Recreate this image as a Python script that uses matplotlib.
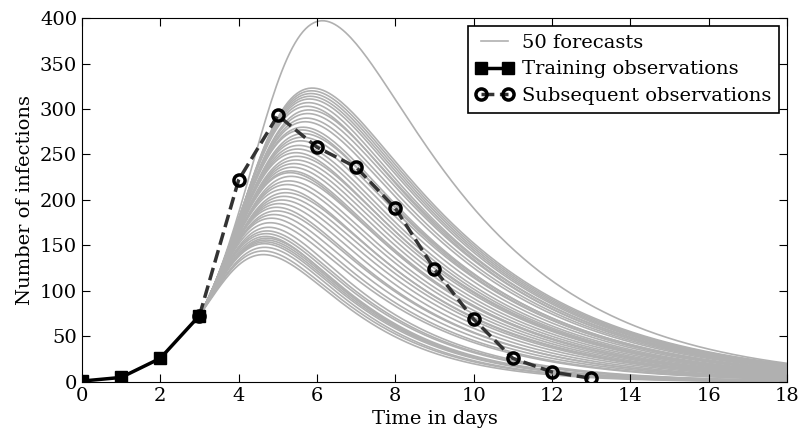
import numpy as np
import matplotlib
matplotlib.use("Agg")
import matplotlib.pyplot as plt

# observed counts
train_days = [0, 1, 2, 3]
train_cases = [1, 5, 26, 73]
later_days = [3, 4, 5, 6, 7, 8, 9, 10, 11, 12, 13]
later_cases = [73, 222, 293, 258, 236, 191, 124, 69, 26, 11, 4]

# the 50 forecasts: peak height, peak day, values on day 10 and day 14
forecast_peaks = [397,
                  323, 320, 317, 314, 311, 307, 303, 299, 295, 290, 286,
                  280, 277, 273, 269, 265, 260, 256, 252, 248, 244, 240, 236, 232,
                  230, 226, 221, 217, 212, 208, 204, 200, 196, 192, 188, 184, 180,
                  175, 170, 166, 163, 160, 158, 156, 154, 152, 148, 144, 140]
forecast_peak_days = [6.12,
                      5.86, 5.85, 5.84, 5.83, 5.82, 5.80, 5.78, 5.76, 5.74, 5.72, 5.70,
                      5.66, 5.64, 5.62, 5.60, 5.57, 5.54, 5.52, 5.49, 5.46, 5.44, 5.41, 5.38, 5.35,
                      5.34, 5.31, 5.27, 5.24, 5.20, 5.17, 5.14, 5.10, 5.05, 5.00, 4.95, 4.90, 4.85,
                      4.78, 4.75, 4.73, 4.72, 4.71, 4.70, 4.69, 4.68, 4.67, 4.65, 4.64, 4.62]
forecast_day10 = [178,
                  150, 148, 146, 143, 140, 137, 134, 131, 128, 124, 120,
                  112, 109, 106, 102, 98, 94, 90, 87, 84, 80, 77, 74, 71,
                  69, 66, 62, 58, 55, 52, 49, 46, 43, 40, 37, 34, 32,
                  26, 24, 22, 20, 18, 17, 16, 15, 13, 12, 10, 9]
forecast_day14 = [68,
                  52, 51, 50, 49, 48, 47, 46, 45, 44, 43, 42,
                  40, 39, 38, 37, 36, 35, 34, 33, 32, 31, 30, 29, 28,
                  27, 26, 25, 24, 23, 22, 21, 20, 19, 18, 17, 16, 15,
                  12, 11, 10, 9, 8, 8, 7, 7, 6, 5, 5, 4]

start_day, start_cases = 3, 73

peaks = np.array(forecast_peaks, float)
peak_days = np.array(forecast_peak_days)
day10 = np.array(forecast_day10, float)
day14 = np.array(forecast_day14, float)

# candidate population sizes for every forecast
n_grid = 48
P = np.repeat(peaks, n_grid)
N = (peaks[:, None] * np.geomspace(1.08, 40, n_grid)[None, :]).ravel()


def sir_peak(R, N):
    s0 = (N - start_cases) / N
    return N - (N / R) * (1 + np.log(R * s0))


def solve_r0(N, P):
    s0 = (N - start_cases) / N
    lo = 1.0 / s0 + 1e-9
    hi = np.full_like(N, 80.0)
    for _ in range(70):
        mid = 0.5 * (lo + hi)
        low = sir_peak(mid, N) < P
        lo = np.where(low, mid, lo)
        hi = np.where(low, hi, mid)
    return 0.5 * (lo + hi)


tau = np.linspace(0, 40, 2001)
dtau = tau[1] - tau[0]


def simulate(R, N):
    # SIR in units of the recovery time
    S = N - start_cases
    I = np.full_like(N, float(start_cases))
    hist = [I.copy()]

    def deriv(S, I):
        inf = R * S * I / N
        return -inf, inf - I

    for _ in tau[1:]:
        a1, b1 = deriv(S, I)
        a2, b2 = deriv(S + dtau / 2 * a1, I + dtau / 2 * b1)
        a3, b3 = deriv(S + dtau / 2 * a2, I + dtau / 2 * b2)
        a4, b4 = deriv(S + dtau * a3, I + dtau * b3)
        S = S + dtau / 6 * (a1 + 2 * a2 + 2 * a3 + a4)
        I = I + dtau / 6 * (b1 + 2 * b2 + 2 * b3 + b4)
        hist.append(I.copy())
    return np.array(hist)


def value_at(hist, pos):
    x = np.clip(pos / dtau, 0, len(tau) - 2)
    i = x.astype(int)
    f = x - i
    cols = np.arange(hist.shape[1])
    return hist[i, cols] * (1 - f) + hist[i + 1, cols] * f


R = solve_r0(N, P)
hist = simulate(R, N)
tau_peak = np.maximum(tau[hist.argmax(axis=0)], dtau)
gamma = tau_peak / (np.repeat(peak_days, n_grid) - start_day)
v10 = np.maximum(value_at(hist, 7 * gamma), 1e-3)
v14 = np.maximum(value_at(hist, 11 * gamma), 1e-3)
err = ((np.log(v10) - np.log(np.repeat(day10, n_grid))) ** 2
       + (np.log(v14) - np.log(np.repeat(day14, n_grid))) ** 2)
best = err.reshape(len(peaks), n_grid).argmin(axis=1) + np.arange(len(peaks)) * n_grid

plt.rcParams["font.family"] = "DejaVu Serif"
fig = plt.figure(figsize=(8.02, 4.36), dpi=100)
ax = fig.add_axes([0.1022, 0.1239, 0.8791, 0.8348])

for k, j in enumerate(best):
    days = start_day + tau / gamma[j]
    keep = days <= 18.5
    ax.plot(days[keep], hist[keep, j], color="#b0b0b0", lw=1.2,
            label="50 forecasts" if k == 0 else None, zorder=1)
ax.plot(train_days, train_cases, "-s", color="black", lw=2.5, ms=8,
        label="Training observations", zorder=3)
ax.plot(later_days, later_cases, "--o", color="#333333", lw=2.5, ms=8,
        mfc="none", mec="black", mew=2.5,
        label="Subsequent observations", zorder=2)

ax.set_xlim(0, 18)
ax.set_ylim(0, 400)
ax.set_xticks(range(0, 19, 2))
ax.set_yticks(range(0, 401, 50))
ax.tick_params(direction="in", top=True, right=True, length=6, labelsize=14)
ax.set_xlabel("Time in days", fontsize=14)
ax.set_ylabel("Number of infections", fontsize=14)
leg = ax.legend(loc="upper right", fontsize=14, fancybox=False, numpoints=2,
                framealpha=1, edgecolor="black", borderpad=0.4,
                handlelength=2.0, handletextpad=0.4, labelspacing=0.45,
                borderaxespad=0.4)
leg.get_frame().set_linewidth(1.2)

fig.savefig("out.png", dpi=100)
